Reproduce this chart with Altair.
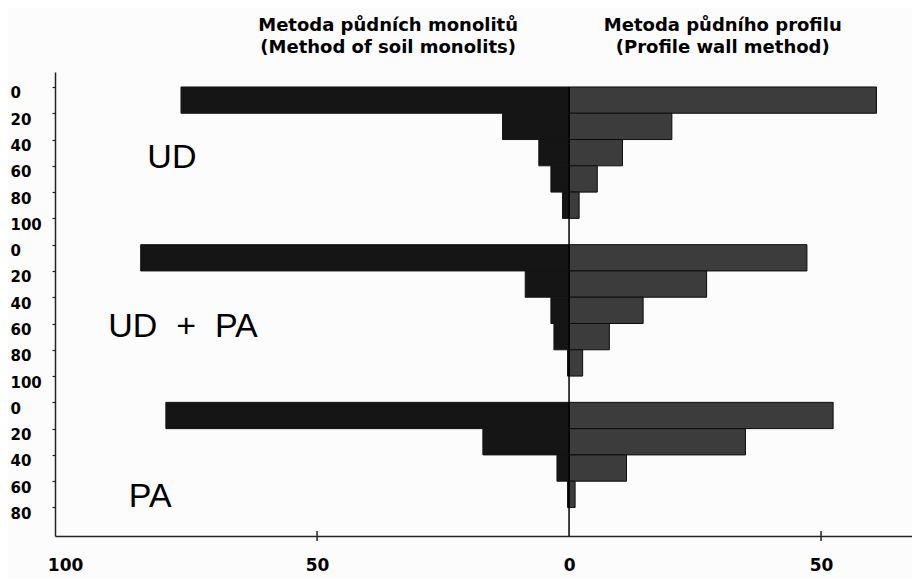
import altair as alt
import pandas as pd

# ---- data ----
groups = ["UD", "UD\u00a0\u00a0+\u00a0\u00a0PA", "PA"]

ud_depth = [0, 20, 40, 60, 80]
ud_monolith = [77.0, 13.2, 6.0, 3.6, 1.3]
ud_profile = [61.0, 20.4, 10.6, 5.6, 2.0]

udpa_depth = [0, 20, 40, 60, 80]
udpa_monolith = [85.0, 8.7, 3.6, 3.0, 0.3]
udpa_profile = [47.2, 27.3, 14.7, 8.0, 2.7]

pa_depth = [0, 20, 40, 60]
pa_monolith = [80.0, 17.1, 2.4, 0.3]
pa_profile = [52.4, 35.0, 11.4, 1.2]

x_tick_values = [-100, -50, 0, 50]
x_tick_marks = [-50, 50]

header_left = "Metoda půdních monolitů\n(Method of soil monolits)"
header_right = "Metoda půdního profilu\n(Profile wall method)"

# ---- layout ----
STEP = 20          # depth step of one bar
BLOCK = 120        # each group block spans 6 depth steps on the y scale
Y_DOMAIN = [-11.4, 341.7]
X_DOMAIN = [-102.0, 68.05]

depths = [ud_depth, udpa_depth, pa_depth]
monos = [ud_monolith, udpa_monolith, pa_monolith]
profs = [ud_profile, udpa_profile, pa_profile]

rows = []
y_ticks = []
for g, name in enumerate(groups):
    off = g * BLOCK
    for d, m, p in zip(depths[g], monos[g], profs[g]):
        rows.append({"group": name, "side": "monolith", "x": -m, "x2": 0.0,
                     "y": off + d, "y2": off + d + STEP})
        rows.append({"group": name, "side": "profile", "x": 0.0, "x2": p,
                     "y": off + d, "y2": off + d + STEP})
    for d in depths[g] + [depths[g][-1] + STEP]:
        y_ticks.append(off + d)

bars_df = pd.DataFrame(rows)

FONT_NUM = "DejaVu Sans"

x_scale = alt.Scale(domain=X_DOMAIN, nice=False, zero=False)
y_scale = alt.Scale(domain=Y_DOMAIN, nice=False, zero=False, reverse=True)

x_axis = alt.Axis(values=x_tick_values, labelExpr="'' + abs(datum.value)",
                  ticks=False, grid=False, title=None, domainColor="#222222",
                  domainWidth=1.5, labelFont=FONT_NUM, labelFontWeight="bold",
                  labelFontSize=17, labelColor="#000000", labelPadding=21,
                  labelFlush=False, labelOverlap=False)
y_axis = alt.Axis(values=y_ticks, labelExpr="'' + (datum.value % 120)",
                  grid=False, title=None, domainColor="#222222", domainWidth=1.5,
                  tickColor="#222222", tickSize=3, tickWidth=1.2,
                  labelFont=FONT_NUM, labelFontWeight="bold", labelFontSize=15,
                  labelColor="#000000", labelAlign="left", labelPadding=42,
                  labelOffset=6, labelBaseline="middle", labelFlush=False,
                  labelOverlap=False)

bars = alt.Chart(bars_df).mark_bar(strokeWidth=1).encode(
    x=alt.X("x:Q", scale=x_scale, axis=x_axis),
    x2="x2:Q",
    y=alt.Y("y:Q", scale=y_scale, axis=y_axis),
    y2="y2:Q",
    color=alt.Color("side:N", scale=alt.Scale(domain=["monolith", "profile"],
                                              range=["#151515", "#3c3c3c"]),
                    legend=None),
    stroke=alt.Stroke("side:N", scale=alt.Scale(domain=["monolith", "profile"],
                                                range=["#151515", "#0d0d0d"]),
                      legend=None),
)

zero_rule = alt.Chart(pd.DataFrame({"x": [0.0]})).mark_rule(
    color="#000000", strokeWidth=1.5
).encode(x=alt.X("x:Q", scale=x_scale, axis=x_axis), y=alt.datum(0, axis=y_axis),
         y2=alt.value(464))

tick_marks = alt.Chart(pd.DataFrame({"x": x_tick_marks})).mark_rule(
    color="#222222", strokeWidth=1.5
).encode(x=alt.X("x:Q", scale=x_scale, axis=x_axis), y=alt.value(459), y2=alt.value(469))

label_x = [-78.8, -76.6, -83.1]
label_y = [54.0, 182.6, 312.0]
group_labels = alt.Chart(pd.DataFrame({"text": groups, "lx": label_x, "ly": label_y})).mark_text(
    font="Liberation Sans", fontSize=34, align="center", baseline="middle",
    color="#000000"
).encode(x=alt.X("lx:Q", scale=x_scale, axis=x_axis),
         y=alt.Y("ly:Q", scale=y_scale, axis=y_axis), text="text:N")

headers = alt.Chart(pd.DataFrame({"text": [header_left, header_right],
                                  "hx": [-35.9, 30.5], "hy": [-42.6, -42.6]})).mark_text(
    font=FONT_NUM, fontWeight="bold", fontSize=18, align="center",
    baseline="alphabetic", lineBreak="\n", lineHeight=22, color="#000000"
).encode(x=alt.X("hx:Q", scale=x_scale, axis=x_axis),
         y=alt.Y("hy:Q", scale=y_scale, axis=y_axis), text="text:N")

chart = alt.layer(bars, zero_rule, tick_marks, group_labels, headers).properties(
    width=857, height=464,
    autosize=alt.AutoSizeParams(type="none"),
    padding={"left": 47, "top": 64, "right": 0, "bottom": 42},
    background="#fcfcfc",
).configure_view(stroke=None)

chart.save("out.html", embed_options={"renderer": "svg", "actions": False})
